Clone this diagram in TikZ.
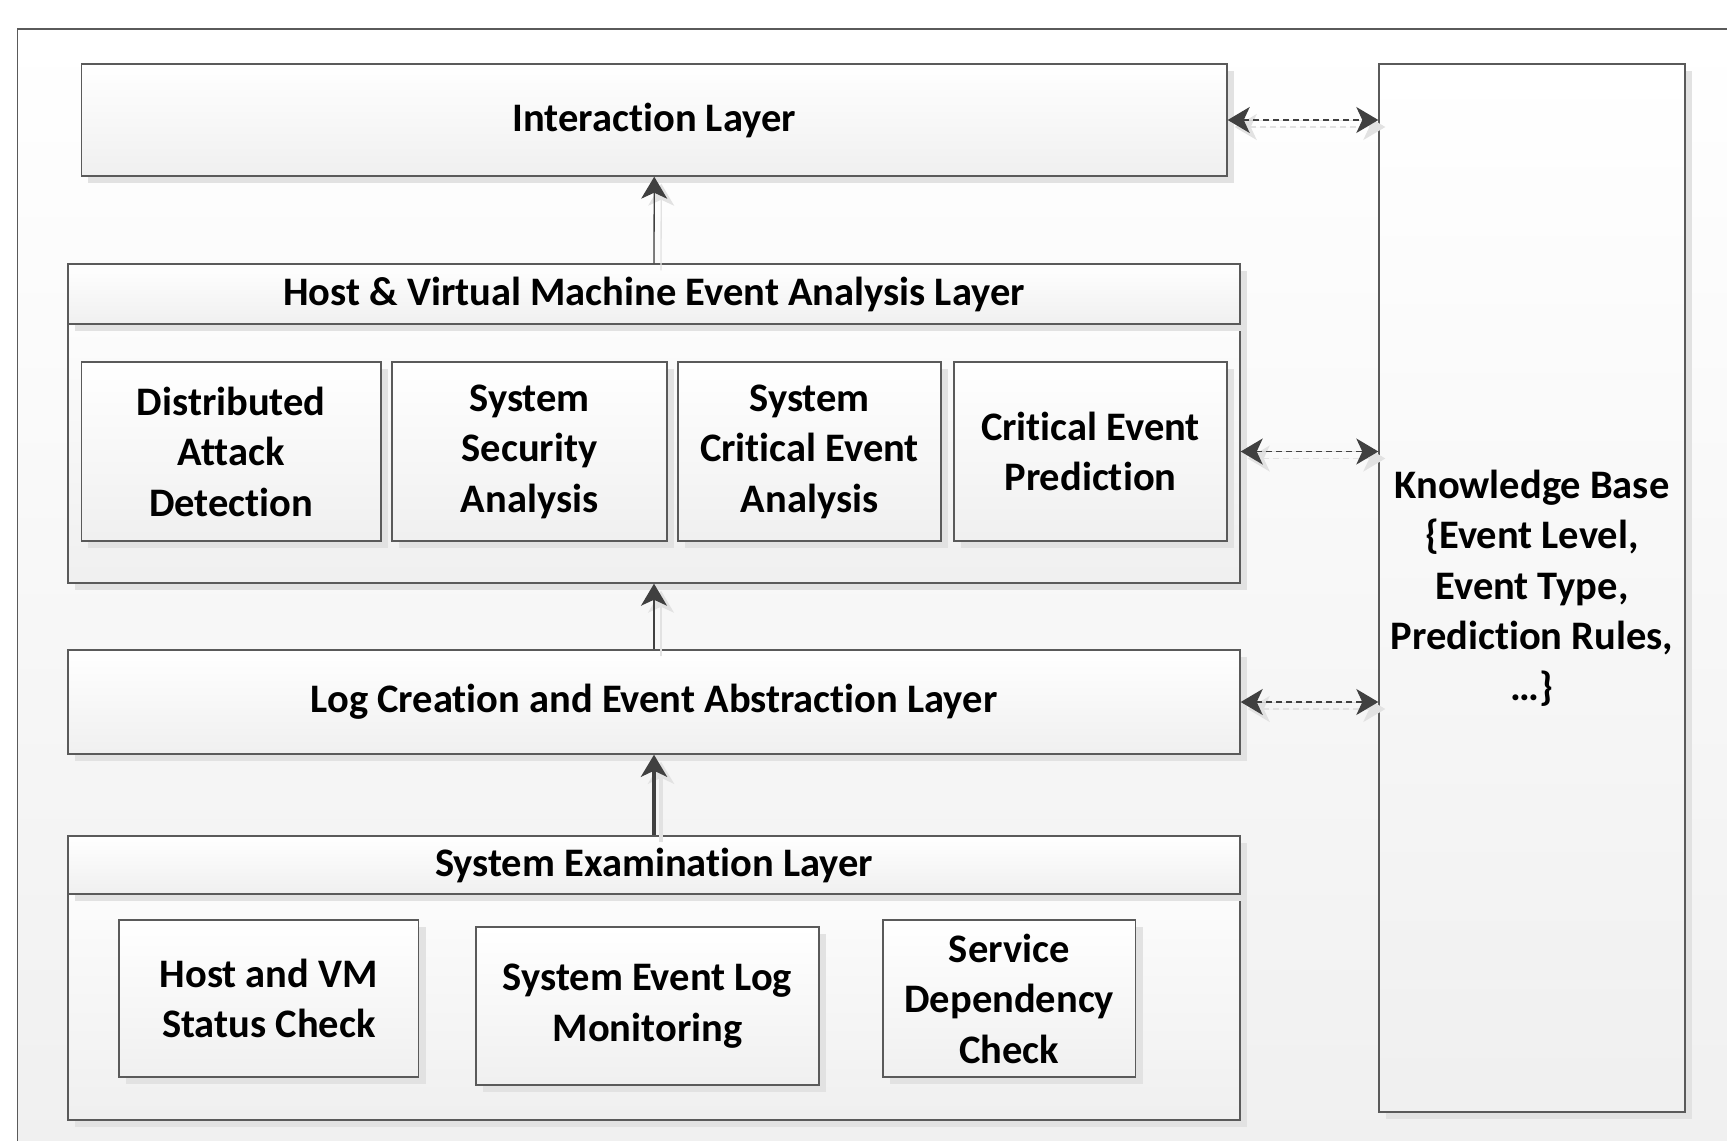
\documentclass[tikz,border=0pt]{standalone}
\usepackage{fontspec}
\setmainfont{Carlito}[Ligatures=NoCommon]
\usetikzlibrary{shadows,arrows.meta}
\definecolor{edge}{HTML}{5A5A5A}
\definecolor{arr}{HTML}{404040}
\definecolor{shd}{HTML}{E2E2E2}
\tikzset{
  box/.style={draw=edge, line width=1.4bp, top color=white, bottom color=black!6,
    inner sep=0pt, align=center, font=\fontsize{40.5bp}{50.5bp}\selectfont\bfseries,
    drop shadow={shadow xshift=7bp, shadow yshift=-7bp, fill=shd, opacity=1}},
  uparrow/.style={draw=arr, line width=1.3bp, -{Stealth[length=22bp, width=26bp, inset=6bp]}, fill=arr},
  shadowarrow/.style={draw=shd, line width=1.3bp, -{Stealth[length=22bp, width=26bp, inset=6bp]}, fill=shd,
    transform canvas={shift={(7bp,-7bp)}}},
  dasharrow/.style={draw=arr, line width=1.3bp, dash pattern=on 6bp off 4bp,
    {Stealth[length=22bp, width=26bp, inset=6bp]}-{Stealth[length=22bp, width=26bp, inset=6bp]}, fill=arr},
  dashshadow/.style={draw=shd, line width=1.3bp, dash pattern=on 6bp off 4bp,
    {Stealth[length=22bp, width=26bp, inset=6bp]}-{Stealth[length=22bp, width=26bp, inset=6bp]}, fill=shd,
    transform canvas={shift={(7bp,-7bp)}}},
}
\begin{document}
\begin{tikzpicture}[x=1bp, y=-1bp]
\useasboundingbox (0,0) rectangle (1727,1140);
\begin{scope}
\clip (0,0) rectangle (1727,1140);
\path[draw=edge, line width=1.4bp, top color=white, bottom color=black!6] (17.5,29) rectangle (1760,1180);
\end{scope}

% Interaction layer
\node[box, minimum width=1145.5bp, minimum height=112bp] (inter) at (654.25,120) {Interaction Layer};

% Host & VM layer
\node[box, minimum width=1172bp, minimum height=319bp] (hostL) at (654,423.5) {};
\node[box, minimum width=1172bp, minimum height=60bp] (hostH) at (654,294) {Host \& Virtual Machine Event Analysis Layer};
\node[box, minimum width=299.5bp, minimum height=179bp] (dad) at (231.25,451.5) {Distributed\\Attack\\Detection};
\node[box, minimum width=275bp, minimum height=179bp] (ssa) at (529.5,451.5) {System\\Security\\Analysis};
\node[box, minimum width=263bp, minimum height=179bp] (scea) at (809.5,451.5) {System\\Critical Event\\Analysis};
\node[box, minimum width=273bp, minimum height=179bp] (cep) at (1090.5,451.5) {Critical Event\\Prediction};

% Log layer
\node[box, minimum width=1172bp, minimum height=104bp] (log) at (654,702) {Log Creation and Event Abstraction Layer};

% System examination layer
\node[box, minimum width=1172bp, minimum height=284bp] (sysL) at (654,978) {};
\node[box, minimum width=1172bp, minimum height=58bp] (sysH) at (654,865) {System Examination Layer};
\node[box, minimum width=299.5bp, minimum height=157bp] (hvm) at (268.75,998.5) {Host and VM\\Status Check};
\node[box, minimum width=343bp, minimum height=158bp] (sel) at (647.5,1006) {System Event Log\\Monitoring};
\node[box, minimum width=252.5bp, minimum height=157bp] (sdc) at (1009.25,998.5) {Service\\Dependency\\Check};

% Knowledge base
\node[box, minimum width=306bp, minimum height=1048bp] (kb) at (1532,588) {Knowledge Base\\\{Event Level,\\Event Type,\\Prediction Rules,\\…\}};

% vertical arrows
\draw[shadowarrow] (hostL.north) -- (inter.south);
\draw[uparrow] (hostL.north) -- (inter.south);
\draw[shadowarrow] (log.north) -- (hostL.south);
\draw[uparrow] (log.north) -- (hostL.south);
\draw[shadowarrow, line width=4bp] (sysL.north) -- (log.south);
\draw[uparrow, line width=4bp] (sysL.north) -- (log.south);

% dashed arrows
\draw[dashshadow] (inter.east) -- (kb.west |- inter.east);
\draw[dasharrow] (inter.east) -- (kb.west |- inter.east);
\draw[dashshadow] (hostL.east |- cep.east) -- (kb.west |- cep.east);
\draw[dasharrow] (hostL.east |- cep.east) -- (kb.west |- cep.east);
\draw[dashshadow] (log.east) -- (kb.west |- log.east);
\draw[dasharrow] (log.east) -- (kb.west |- log.east);
\end{tikzpicture}
\end{document}
